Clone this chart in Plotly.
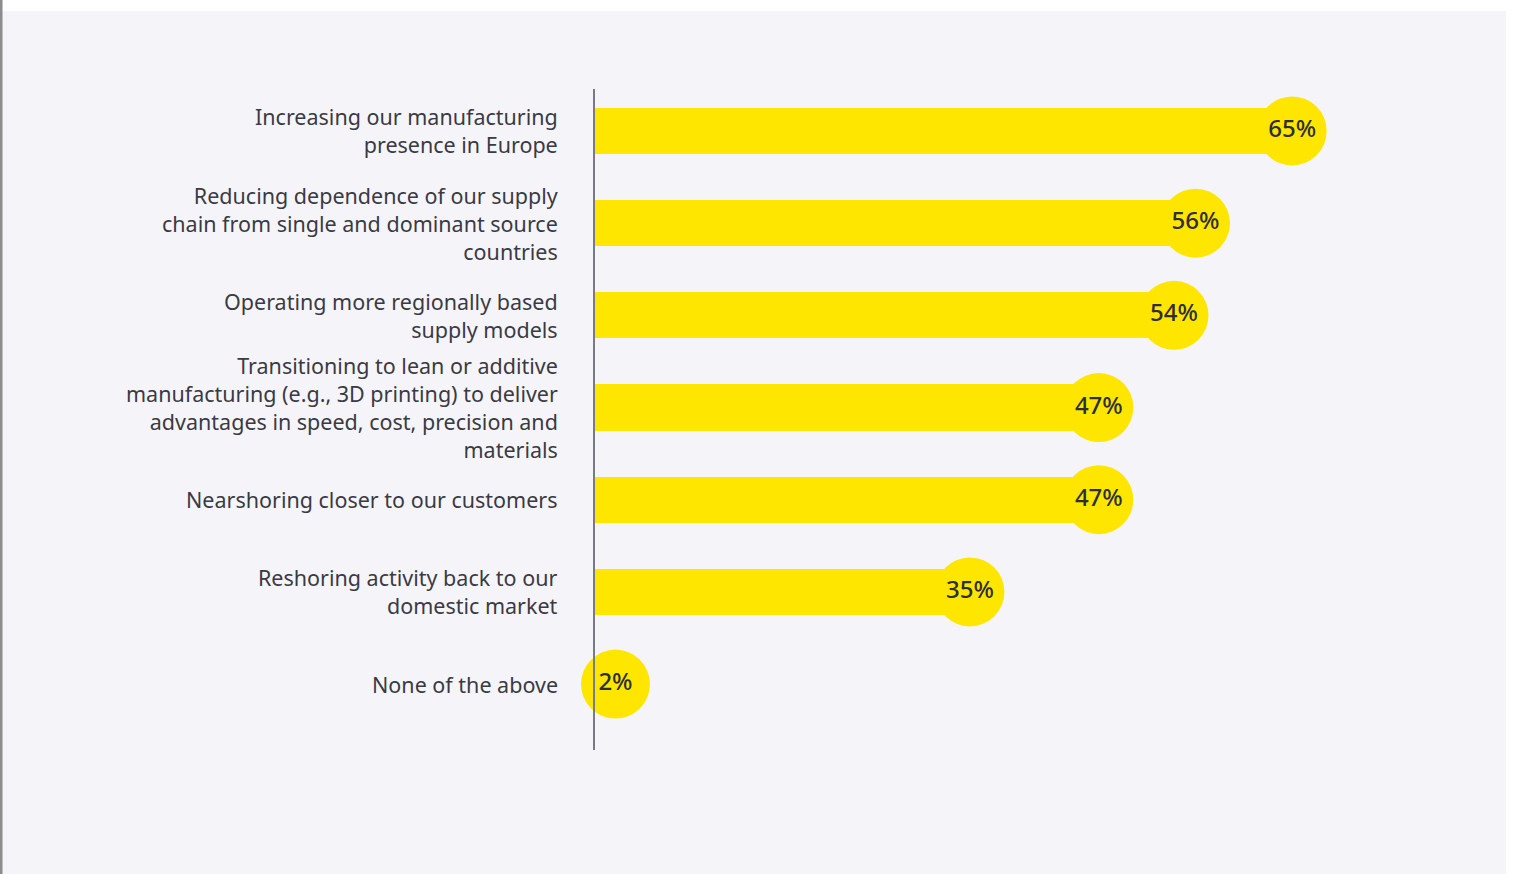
import plotly.graph_objects as go

# Survey responses (share of respondents)
categories = [
    "Increasing our manufacturing<br>presence in Europe",
    "Reducing dependence of our supply<br>chain from single and dominant source<br>countries",
    "Operating more regionally based<br>supply models",
    "Transitioning to lean or additive<br>manufacturing (e.g., 3D printing) to deliver<br>advantages in speed, cost, precision and<br>materials",
    "Nearshoring closer to our customers",
    "Reshoring activity back to our<br>domestic market",
    "None of the above",
]
values = [65, 56, 54, 47, 47, 35, 2]
value_labels = ["65%", "56%", "54%", "47%", "47%", "35%", "2%"]

YELLOW = "#FFE600"
PANEL = "#F5F5F9"
TEXT = "#2E2E38"
LABEL = "#3A3A44"
FONT = "Noto Sans"

fig = go.Figure()

fig.add_trace(go.Bar(
    x=values,
    y=categories,
    orientation="h",
    marker=dict(color=YELLOW, line=dict(width=0)),
    width=0.5,
    hoverinfo="skip",
))

fig.add_trace(go.Scatter(
    x=values,
    y=categories,
    mode="markers+text",
    marker=dict(color=YELLOW, size=69, line=dict(width=0)),
    text=value_labels,
    textposition="middle center",
    textfont=dict(family=FONT, size=24, color=TEXT, weight=500),
    cliponaxis=False,
    hoverinfo="skip",
))

# Category labels, right-aligned left of the axis line
for cat in categories:
    fig.add_annotation(
        x=0, xref="paper", y=cat, yref="y",
        text=cat, showarrow=False,
        xanchor="right", yanchor="middle", align="right",
        xshift=-34, yshift=0,
        font=dict(family=FONT, size=21.5, color=LABEL),
    )

# Page frame: white strips at top and right, grey rule at left edge
plot_w = 913.0
plot_h = 661.0
left_px, top_px = 594.0, 89.0
def px_x(px):
    return (px - left_px) / plot_w
def px_y(py):
    return (top_px + plot_h - py) / plot_h

fig.add_shape(type="rect", xref="paper", yref="paper", layer="below",
              x0=px_x(0), x1=px_x(1516), y0=px_y(11), y1=px_y(-5),
              fillcolor="white", line=dict(width=0))
fig.add_shape(type="rect", xref="paper", yref="paper", layer="below",
              x0=px_x(1506), x1=px_x(1520), y0=px_y(880), y1=px_y(-5),
              fillcolor="white", line=dict(width=0))
fig.add_shape(type="rect", xref="paper", yref="paper", layer="below",
              x0=px_x(0), x1=px_x(2.5), y0=px_y(880), y1=px_y(-5),
              fillcolor="#8C8C8C", line=dict(width=0))

fig.update_layout(
    width=1516, height=874,
    margin=dict(l=594, r=1516 - 594 - 913, t=89, b=874 - 89 - 661),
    paper_bgcolor=PANEL,
    plot_bgcolor=PANEL,
    showlegend=False,
    bargap=0,
    xaxis=dict(range=[0, 85], visible=False, fixedrange=True),
    yaxis=dict(
        range=[6.715, -0.455],
        showticklabels=False,
        showgrid=False,
        zeroline=False,
        showline=False,
        ticks="",
        fixedrange=True,
    ),
)

# Vertical axis rule
fig.add_shape(type="line", xref="paper", yref="paper",
              x0=0, x1=0, y0=0, y1=1,
              line=dict(color="#7A7A84", width=2))

fig.write_html("out.html")
